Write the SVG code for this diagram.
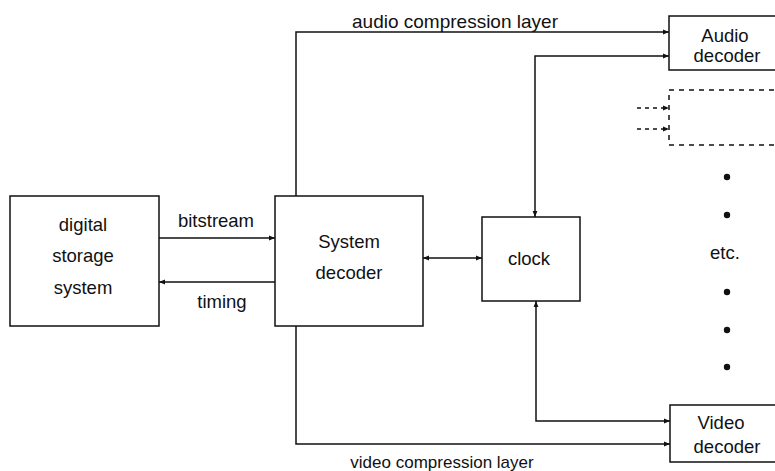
<svg xmlns="http://www.w3.org/2000/svg" width="775" height="471" viewBox="0 0 775 471">
<defs>
<style>
.box{fill:#fff;stroke:#111;stroke-width:1.5}
.dbox{fill:none;stroke:#111;stroke-width:1.5;stroke-dasharray:5,5}
.ln{fill:none;stroke:#111;stroke-width:1.5}
.dl{fill:none;stroke:#111;stroke-width:1.5;stroke-dasharray:4,4}
text{font-family:"Liberation Sans",Arial,sans-serif;font-size:18.5px;fill:#111;text-anchor:middle}
</style>
<marker id="ah" viewBox="0 0 10 10" refX="10" refY="5" markerWidth="8" markerHeight="6" markerUnits="userSpaceOnUse" orient="auto-start-reverse">
<path d="M0,1 L10,5 L0,9 z" fill="#111"/>
</marker>
</defs>
<rect width="775" height="471" fill="#fff"/>
<g id="connectors">
<line class="ln" x1="159" y1="238" x2="275" y2="238" marker-end="url(#ah)"/>
<line class="ln" x1="275" y1="282" x2="159" y2="282" marker-end="url(#ah)"/>
<line class="ln" x1="423" y1="258" x2="482" y2="258" marker-start="url(#ah)" marker-end="url(#ah)"/>
<polyline class="ln" points="296,196 296,32 669,32" marker-end="url(#ah)"/>
<polyline class="ln" points="535,217 535,56 669,56" marker-start="url(#ah)" marker-end="url(#ah)"/>
<polyline class="ln" points="296,326 296,444 670,444" marker-end="url(#ah)"/>
<polyline class="ln" points="536,301 536,421 670,421" marker-start="url(#ah)" marker-end="url(#ah)"/>
<line class="dl" x1="637" y1="108" x2="669" y2="108" marker-end="url(#ah)"/>
<line class="dl" x1="637" y1="129" x2="669" y2="129" marker-end="url(#ah)"/>
<text x="455" y="28" style="font-size:19px">audio compression layer</text>
<text x="216" y="227">bitstream</text>
<text x="222" y="308">timing</text>
<text x="442" y="468" style="font-size:17px">video compression layer</text>
</g>
<g id="storage">
<rect class="box" x="10" y="196" width="149" height="130"/>
<text x="83" y="231">digital</text>
<text x="83" y="262">storage</text>
<text x="83" y="294">system</text>
</g>
<g id="sysdec">
<rect class="box" x="275" y="196" width="148" height="130"/>
<text x="349" y="248">System</text>
<text x="349" y="279">decoder</text>
</g>
<g id="clock">
<rect class="box" x="482" y="217" width="98" height="84"/>
<text x="529" y="265">clock</text>
</g>
<g id="audio">
<rect class="box" x="669" y="16" width="120" height="54"/>
<text x="725" y="42">Audio</text>
<text x="727" y="62">decoder</text>
</g>
<g id="other">
<rect class="dbox" x="669" y="90" width="120" height="55"/>
</g>
<g id="video">
<rect class="box" x="670" y="405" width="120" height="57"/>
<text x="721" y="429">Video</text>
<text x="727" y="453">decoder</text>
</g>
<g id="etc">
<circle cx="727" cy="177" r="3.2" fill="#111"/>
<circle cx="727" cy="215" r="3.2" fill="#111"/>
<text x="725" y="259">etc.</text>
<circle cx="727" cy="292" r="3.2" fill="#111"/>
<circle cx="727" cy="330" r="3.2" fill="#111"/>
<circle cx="727" cy="367" r="3.2" fill="#111"/>
</g>
</svg>
